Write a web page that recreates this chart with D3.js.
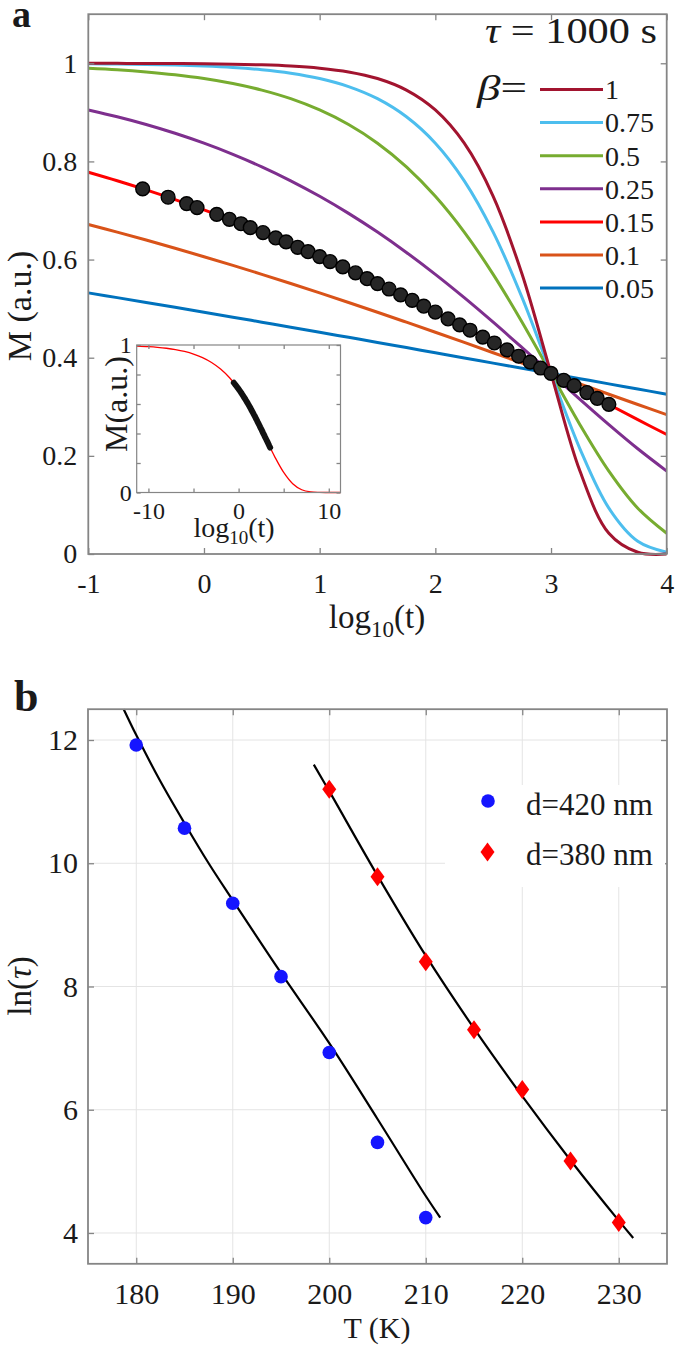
<!DOCTYPE html>
<html><head><meta charset="utf-8">
<script src="https://cdn.jsdelivr.net/npm/d3@7"></script>
<style>
body{margin:0;background:#fff}
svg{display:block}
text{font-family:"Liberation Serif","Times New Roman",serif;fill:#1a1a1a}
</style></head>
<body><svg id="chart" width="675" height="1348"></svg>
<script>
// ---------------- DATA: panel a ----------------
const logT = [-1,-0.75,-0.5,-0.25,0,0.25,0.5,0.75,1,1.25,1.5,1.75,2,2.25,2.5,2.75,3,3.25,3.5,3.75,4];
const betaLabels = ["1","0.75","0.5","0.25","0.15","0.1","0.05"];
const betaColors = ["#A2142F","#4DBEEE","#77AC30","#7E2F8E","#FF0000","#D95319","#0072BD"];
const mBeta1   = [0.9999,0.9998,0.9997,0.9994,0.9990,0.9982,0.9968,0.9944,0.9900,0.9824,0.9689,0.9453,0.9048,0.8371,0.7289,0.5699,0.3679,0.1690,0.0423,0.0036,0.0000];
const mBeta075 = [0.9990,0.9985,0.9976,0.9964,0.9944,0.9914,0.9868,0.9797,0.9689,0.9525,0.9278,0.8909,0.8371,0.7605,0.6560,0.5224,0.3679,0.2144,0.0934,0.0259,0.0036];
const mBeta05  = [0.9900,0.9868,0.9824,0.9766,0.9689,0.9587,0.9453,0.9278,0.9048,0.8752,0.8371,0.7889,0.7289,0.6560,0.5699,0.4724,0.3679,0.2636,0.1690,0.0934,0.0423];
const mBeta025 = [0.9048,0.8909,0.8752,0.8573,0.8371,0.8144,0.7889,0.7605,0.7289,0.6941,0.6560,0.6145,0.5699,0.5224,0.4724,0.4206,0.3679,0.3151,0.2636,0.2144,0.1690];
const mBeta015 = [0.7779,0.7605,0.7419,0.7222,0.7013,0.6792,0.6560,0.6314,0.6058,0.5790,0.5512,0.5224,0.4927,0.4622,0.4311,0.3996,0.3679,0.3362,0.3047,0.2737,0.2435];
const mBeta01  = [0.6716,0.6560,0.6398,0.6230,0.6058,0.5881,0.5699,0.5512,0.5321,0.5126,0.4927,0.4724,0.4519,0.4311,0.4101,0.3890,0.3679,0.3467,0.3256,0.3047,0.2840];
const mBeta005 = [0.5321,0.5224,0.5126,0.5027,0.4927,0.4826,0.4724,0.4622,0.4519,0.4415,0.4311,0.4206,0.4101,0.3996,0.3890,0.3785,0.3679,0.3573,0.3467,0.3362,0.3256];
const dotLogT = [-0.53,-0.31,-0.15,-0.06,0.11,0.22,0.32,0.40,0.51,0.62,0.71,0.81,0.90,1.00,1.09,1.20,1.31,1.41,1.50,1.60,1.70,1.80,1.90,2.00,2.11,2.21,2.30,2.41,2.51,2.62,2.72,2.82,2.91,3.00,3.11,3.20,3.31,3.40,3.50];
const dotM    = [0.744,0.727,0.714,0.706,0.692,0.682,0.673,0.665,0.655,0.644,0.636,0.625,0.616,0.606,0.596,0.585,0.573,0.561,0.551,0.540,0.528,0.517,0.505,0.493,0.479,0.467,0.456,0.442,0.430,0.416,0.403,0.391,0.379,0.368,0.354,0.343,0.329,0.317,0.305];
const xTicksA = [-1,0,1,2,3,4];
const yTicksA = [0,0.2,0.4,0.6,0.8,1];
const yTickLabelsA = ["0","0.2","0.4","0.6","0.8","1"];
// inset
const insetLogT = [-11.3,-10,-9,-8,-7,-6,-5,-4,-3,-2,-1,0,1,2,3,4,5,6,7,8,9,10,11.3];
const insetM = [0.9928,0.9888,0.9843,0.9779,0.9689,0.9563,0.9389,0.9147,0.8817,0.8371,0.7779,0.7013,0.6058,0.4927,0.3679,0.2435,0.1360,0.0597,0.0187,0.0036,0.0004,0.0000,0.0000];
const insetXTicks = [-10,-5,0,5,10];
const insetXLabels = ["-10","","0","","10"];
const insetYTicks = [0,0.2,0.4,0.6,0.8,1];
const insetYLabels = ["0","","","","","1"];

// ---------------- DATA: panel b ----------------
const tempBlue = [180,185,190,195,200,205,210];
const lnTauBlue = [11.92,10.57,9.35,8.16,6.93,5.47,4.25];
const tempRed = [200,205,210,215,220,225,230];
const lnTauRed = [11.2,9.78,8.4,7.3,6.33,5.17,4.17];
const fitBlueT  = [178.7,180,182.5,185,187.5,190,195,200,205,210,211.5];
const fitBlueLn = [12.5,12.08,11.33,10.65,10.0,9.4,8.22,7.08,5.85,4.6,4.25];
const fitRedT  = [198.4,200,205,210,215,220,225,230,231.5];
const fitRedLn = [11.6,11.17,9.8,8.5,7.32,6.22,5.18,4.2,3.92];
const xTicksB = [180,190,200,210,220,230];
const yTicksB = [4,6,8,10,12];
const legendB = ["d=420 nm","d=380 nm"];

const seriesA = [mBeta1,mBeta075,mBeta05,mBeta025,mBeta015,mBeta01,mBeta005];

// ---------------- DRAW ----------------
const svg = d3.select("#chart");
const AX = "#858585";

function boxAxes(g, x, y, o) {
  const [x0,x1] = x.range(), [yb,yt] = y.range();
  const styleAxis = sel => {
    sel.select(".domain").remove();
    sel.selectAll(".tick line").attr("stroke",AX).attr("stroke-width",1.3);
    sel.selectAll("text").attr("font-size",o.font).attr("fill","#1a1a1a").attr("font-family",'"Liberation Serif","Times New Roman",serif');
  };
  g.append("g").attr("transform",`translate(0,${yb})`)
    .call(d3.axisBottom(x).tickValues(o.xt).tickSize(-o.tl).tickPadding(o.padX).tickFormat((d,i)=>o.xl[i])).call(styleAxis);
  g.append("g").attr("transform",`translate(0,${yt})`)
    .call(d3.axisTop(x).tickValues(o.xt).tickSize(-o.tl).tickFormat("")).call(styleAxis);
  g.append("g").attr("transform",`translate(${x0},0)`)
    .call(d3.axisLeft(y).tickValues(o.yt).tickSize(-o.tl).tickPadding(o.padY).tickFormat((d,i)=>o.yl[i])).call(styleAxis);
  g.append("g").attr("transform",`translate(${x1},0)`)
    .call(d3.axisRight(y).tickValues(o.yt).tickSize(-o.tl).tickFormat("")).call(styleAxis);
  g.append("rect").attr("x",x0).attr("y",yt).attr("width",x1-x0).attr("height",yb-yt)
    .attr("fill","none").attr("stroke",AX).attr("stroke-width",o.bw);
}

// ===== Panel a =====
const xA = d3.scaleLinear().domain([-1,4]).range([88.3,666.7]);
const yA = d3.scaleLinear().domain([0,1.1]).range([554,14.2]);
const gA = svg.append("g");
svg.append("defs").append("clipPath").attr("id","clipA").append("rect")
  .attr("x",88.3).attr("y",14.2).attr("width",666.7-88.3).attr("height",554-14.2+2);

const lineA = d3.line().x((d,i)=>xA(logT[i])).y(d=>yA(d)).curve(d3.curveCatmullRom.alpha(0.5));
const curves = gA.append("g").attr("clip-path","url(#clipA)");
seriesA.slice().reverse().forEach((s,k)=>{
  const i = seriesA.length-1-k;
  curves.append("path").attr("d",lineA(s)).attr("fill","none")
    .attr("stroke",betaColors[i]).attr("stroke-width",3);
});
// data dots
curves.selectAll("circle.dot").data(dotLogT).join("circle")
  .attr("cx",d=>xA(d)).attr("cy",(d,i)=>yA(dotM[i])).attr("r",6.9)
  .attr("fill","#262626").attr("stroke","#000").attr("stroke-width",1.4);

boxAxes(gA, xA, yA, {xt:xTicksA, xl:xTicksA.map(String), yt:yTicksA, yl:yTickLabelsA, tl:6, font:28, padX:19, padY:11, bw:1.8});

// legend a
const legY = betaLabels.map((d,i)=>89.5+i*33.1);
const legA = gA.append("g");
betaLabels.forEach((lab,i)=>{
  legA.append("line").attr("x1",540).attr("x2",603).attr("y1",legY[i]).attr("y2",legY[i])
    .attr("stroke",betaColors[i]).attr("stroke-width",3);
  legA.append("text").attr("x",605).attr("y",legY[i]).attr("dy","0.35em").attr("font-size",28).text(lab);
});
const betaT = legA.append("text").attr("x",477).attr("y",100).attr("font-size",36).attr("textLength",50).attr("lengthAdjust","spacingAndGlyphs");
betaT.append("tspan").attr("font-style","italic").text("β");
betaT.append("tspan").text("=");
const tauT = gA.append("text").attr("x",485).attr("y",43).attr("font-size",35).attr("textLength",172).attr("lengthAdjust","spacingAndGlyphs");
tauT.append("tspan").attr("font-style","italic").text("τ");
tauT.append("tspan").text(" = 1000 s");

// labels a
const xlabA = gA.append("text").attr("x",377).attr("y",628).attr("text-anchor","middle").attr("font-size",33);
xlabA.append("tspan").text("log");
xlabA.append("tspan").attr("font-size",23).attr("dy",9).text("10");
xlabA.append("tspan").attr("dy",-9).text("(t)");
gA.append("text").attr("transform","translate(31,306) rotate(-90)").attr("text-anchor","middle").attr("font-size",34).text("M (a.u.)");
gA.append("text").attr("x",12).attr("y",27).attr("font-size",38).attr("font-weight","bold").text("a");

// ===== inset =====
const xI = d3.scaleLinear().domain([-11.3,11.3]).range([136.7,340.5]);
const yI = d3.scaleLinear().domain([0,1]).range([492.5,345]);
const gI = svg.append("g");
gI.append("rect").attr("x",136.7).attr("y",345).attr("width",340.5-136.7).attr("height",492.5-345).attr("fill","#fff");
const lineI = d3.line().x((d,i)=>xI(insetLogT[i])).y(d=>yI(d)).curve(d3.curveCatmullRom.alpha(0.5));
gI.append("path").attr("d",lineI(insetM)).attr("fill","none").attr("stroke","#FF0000").attr("stroke-width",1.3);
const lineIdots = d3.line().x((d,i)=>xI(dotLogT[i])).y(d=>yI(d));
gI.append("path").attr("d",lineIdots(dotM)).attr("fill","none").attr("stroke","#111").attr("stroke-width",6).attr("stroke-linecap","round");
boxAxes(gI, xI, yI, {xt:insetXTicks, xl:insetXLabels, yt:insetYTicks, yl:insetYLabels, tl:4, font:24, padX:9, padY:5, bw:1.2});
const xlabI = gI.append("text").attr("x",234).attr("y",537).attr("text-anchor","middle").attr("font-size",28);
xlabI.append("tspan").text("log");
xlabI.append("tspan").attr("font-size",19).attr("dy",7).text("10");
xlabI.append("tspan").attr("dy",-7).text("(t)");
gI.append("text").attr("transform","translate(127,404) rotate(-90)").attr("text-anchor","middle").attr("font-size",32).text("M(a.u.)");

// ===== Panel b =====
const xB = d3.scaleLinear().domain([175,235]).range([88,667]);
const yB = d3.scaleLinear().domain([3.5,12.5]).range([1263.8,709.2]);
const gB = svg.append("g");
// grid
gB.selectAll("line.gx").data(xTicksB).join("line").attr("x1",d=>xB(d)).attr("x2",d=>xB(d))
  .attr("y1",709.2).attr("y2",1263.8).attr("stroke","#e4e4e4").attr("stroke-width",1);
gB.selectAll("line.gy").data(yTicksB).join("line").attr("y1",d=>yB(d)).attr("y2",d=>yB(d))
  .attr("x1",88).attr("x2",667).attr("stroke","#e4e4e4").attr("stroke-width",1);

const lineB = (xs) => d3.line().x((d,i)=>xB(xs[i])).y(d=>yB(d)).curve(d3.curveCatmullRom.alpha(0.5));
gB.append("path").attr("d",lineB(fitBlueT)(fitBlueLn)).attr("fill","none").attr("stroke","#000").attr("stroke-width",2.2);
gB.append("path").attr("d",lineB(fitRedT)(fitRedLn)).attr("fill","none").attr("stroke","#000").attr("stroke-width",2.2);

const diamond = (cx,cy,w,h) => { const p=d3.path(); p.moveTo(cx,cy-h); p.lineTo(cx+w,cy); p.lineTo(cx,cy+h); p.lineTo(cx-w,cy); p.closePath(); return p.toString(); };

gB.selectAll("circle.b").data(tempBlue).join("circle")
  .attr("cx",d=>xB(d)).attr("cy",(d,i)=>yB(lnTauBlue[i])).attr("r",6.8).attr("fill","#1515ff");
gB.selectAll("path.r").data(tempRed).join("path")
  .attr("d",(d,i)=>diamond(xB(d),yB(lnTauRed[i]),7,9.5)).attr("fill","#ff0000");

boxAxes(gB, xB, yB, {xt:xTicksB, xl:xTicksB.map(String), yt:yTicksB, yl:yTicksB.map(String), tl:6, font:30, padX:18.5, padY:10, bw:1.8});

// legend b
gB.append("rect").attr("x",445).attr("y",785).attr("width",220).attr("height",102).attr("fill","#fff");
gB.append("circle").attr("cx",488).attr("cy",801).attr("r",6.8).attr("fill","#1515ff");
gB.append("path").attr("d",diamond(487.5,852,7,9.5)).attr("fill","#ff0000");
legendB.forEach((t,i)=>{
  gB.append("text").attr("x",526).attr("y",[815,865][i]).attr("font-size",31).text(t);
});

gB.append("text").attr("x",377).attr("y",1338).attr("text-anchor","middle").attr("font-size",30).text("T (K)");
const ylB = gB.append("text").attr("transform","translate(31,986) rotate(-90)").attr("text-anchor","middle").attr("font-size",33);
ylB.append("tspan").text("ln(");
ylB.append("tspan").attr("font-style","italic").text("τ");
ylB.append("tspan").text(")");
gB.append("text").attr("x",14).attr("y",711).attr("font-size",44).attr("font-weight","bold").text("b");
</script>
</body></html>
